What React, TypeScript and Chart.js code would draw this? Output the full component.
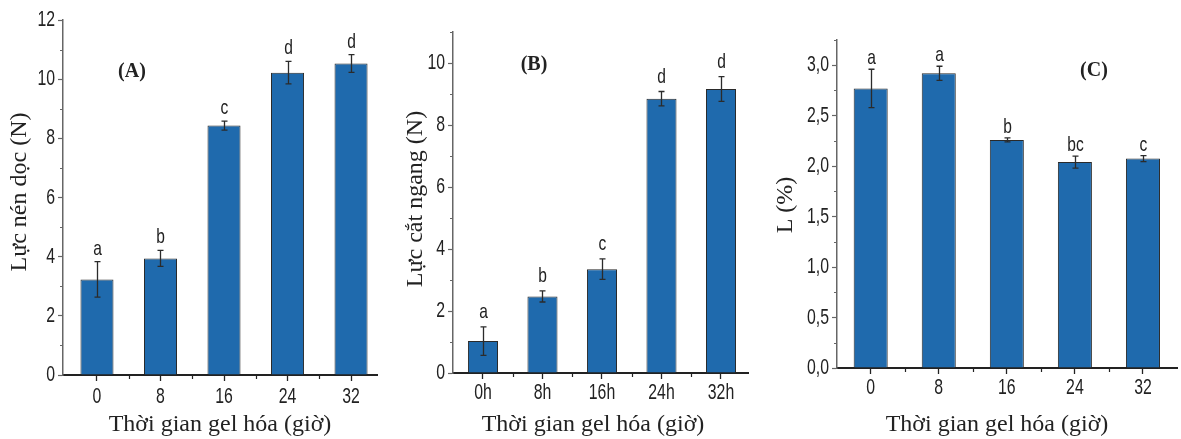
import React, { useEffect, useRef } from "react";
import { Chart, registerables } from "chart.js";

Chart.register(...registerables);

// ---------------- data ----------------
const hours = [0, 8, 16, 24, 32];

const xLabelsA = ["0", "8", "16", "24", "32"];
const valuesA = [3.23, 3.94, 8.43, 10.22, 10.53];
const errorsA = [0.6, 0.27, 0.15, 0.38, 0.3];
const lettersA = ["a", "b", "c", "d", "d"];
const yTicksA = [0, 2, 4, 6, 8, 10, 12];

const xLabelsB = ["0h", "8h", "16h", "24h", "32h"];
const valuesB = [1.03, 2.47, 3.35, 8.85, 9.16];
const errorsB = [0.46, 0.18, 0.33, 0.23, 0.4];
const lettersB = ["a", "b", "c", "d", "d"];
const yTicksB = [0, 2, 4, 6, 8, 10];

const xLabelsC = ["0", "8", "16", "24", "32"];
const valuesC = [2.77, 2.92, 2.26, 2.04, 2.075];
const errorsC = [0.19, 0.07, 0.02, 0.06, 0.03];
const lettersC = ["a", "a", "b", "bc", "c"];
const yTicksC = [0, 0.5, 1, 1.5, 2, 2.5, 3];

const xTitle = "Thời gian gel hóa (giờ)";

// ---------------- styles ----------------
const H = 439;
const SANS = '"Liberation Sans", Arial, sans-serif';
const SERIF = '"Liberation Serif", "Times New Roman", serif';
const BAR = "#1f6aad";
const DARK = "#222222";
const GREY = "#666666";

type PanelCfg = {
  left: number;
  width: number;
  area: { left: number; right: number; top: number; bottom: number };
  xMin: number;
  xMax: number;
  yMax: number;
  yTicks: number[];
  yMinor: number;
  xLabels: string[];
  values: number[];
  errors: number[];
  letters: string[];
  comma: boolean;
  yTitle: string;
  yTitlePos: [number, number];
  xTitlePos: [number, number];
  label: string;
  labelPos: [number, number];
  letterGap: number;
  barPct: number;
  xTickY: number;
};

const panels: PanelCfg[] = [
  {
    left: 0,
    width: 390,
    area: { left: 63, right: 377, top: 20, bottom: 375 },
    xMin: -4.28,
    xMax: 35.27,
    yMax: 12,
    yTicks: yTicksA,
    yMinor: 1,
    xLabels: xLabelsA,
    values: valuesA,
    errors: errorsA,
    letters: lettersA,
    comma: false,
    yTitle: "Lực nén dọc (N)",
    yTitlePos: [20, 192],
    xTitlePos: [220, 425],
    label: "(A)",
    labelPos: [132, 72],
    letterGap: 7,
    barPct: 0.52,
    xTickY: 397,
  },
  {
    left: 390,
    width: 380,
    area: { left: 63, right: 358, top: 32, bottom: 373 },
    xMin: -4.03,
    xMax: 35.63,
    yMax: 11,
    yTicks: yTicksB,
    yMinor: 1,
    xLabels: xLabelsB,
    values: valuesB,
    errors: errorsB,
    letters: lettersB,
    comma: false,
    yTitle: "Lực cắt ngang (N)",
    yTitlePos: [26, 199],
    xTitlePos: [203, 425],
    label: "(B)",
    labelPos: [144, 65],
    letterGap: 9,
    barPct: 0.505,
    xTickY: 393,
  },
  {
    left: 770,
    width: 411,
    area: { left: 67, right: 407, top: 40, bottom: 368 },
    xMin: -3.96,
    xMax: 36.0,
    yMax: 3.25,
    yTicks: yTicksC,
    yMinor: 0.25,
    xLabels: xLabelsC,
    values: valuesC,
    errors: errorsC,
    letters: lettersC,
    comma: true,
    yTitle: "L (%)",
    yTitlePos: [16, 205],
    xTitlePos: [227, 425],
    label: "(C)",
    labelPos: [324, 71],
    letterGap: 5,
    barPct: 0.5,
    xTickY: 388,
  },
];

function narrowText(
  ctx: CanvasRenderingContext2D,
  text: string,
  x: number,
  y: number,
  align: CanvasTextAlign,
  baseline: CanvasTextBaseline,
  size: number,
  sx: number
) {
  ctx.save();
  ctx.translate(x, y);
  ctx.scale(sx, 1);
  ctx.font = `${size}px ${SANS}`;
  ctx.textAlign = align;
  ctx.textBaseline = baseline;
  ctx.fillText(text, 0, 0);
  ctx.restore();
}

function makeOverlay(cfg: PanelCfg) {
  return {
    id: "overlay" + cfg.label,
    afterDatasetsDraw(chart: any) {
      const ctx = chart.ctx as CanvasRenderingContext2D;
      const xs = chart.scales.x;
      const ys = chart.scales.y;
      const a = chart.chartArea;
      ctx.save();
      // error bars + letters
      cfg.values.forEach((v, i) => {
        const e = cfg.errors[i];
        const x = Math.round(xs.getPixelForValue(hours[i])) + 0.5;
        const yt = ys.getPixelForValue(v + e);
        const yb = ys.getPixelForValue(v - e);
        ctx.strokeStyle = "#2b2b2b";
        ctx.lineWidth = 1.3;
        ctx.beginPath();
        ctx.moveTo(x, yt);
        ctx.lineTo(x, yb);
        ctx.moveTo(x - 3, yt);
        ctx.lineTo(x + 3, yt);
        ctx.moveTo(x - 3, yb);
        ctx.lineTo(x + 3, yb);
        ctx.stroke();
        ctx.fillStyle = DARK;
        narrowText(ctx, cfg.letters[i], x, yt - cfg.letterGap, "center", "alphabetic", 21, 0.74);
      });
      // tick labels
      ctx.fillStyle = DARK;
      cfg.yTicks.forEach((v) => {
        const t = cfg.comma ? v.toFixed(1).replace(".", ",") : String(v);
        narrowText(ctx, t, a.left - 8, ys.getPixelForValue(v), "right", "middle", 22, 0.72);
      });
      hours.forEach((h, i) => {
        narrowText(ctx, cfg.xLabels[i], xs.getPixelForValue(h), cfg.xTickY, "center", "middle", 22, 0.72);
      });
      // minor y ticks
      ctx.strokeStyle = GREY;
      ctx.lineWidth = 1.2;
      ctx.beginPath();
      for (let v = cfg.yMinor; v <= cfg.yMax + 1e-9; v += cfg.yMinor * 2) {
        const y = Math.round(ys.getPixelForValue(v)) + 0.5;
        ctx.moveTo(a.left, y);
        ctx.lineTo(a.left - 3, y);
      }
      ctx.stroke();
      // minor x ticks
      ctx.strokeStyle = DARK;
      ctx.beginPath();
      for (let i = 0; i < hours.length - 1; i++) {
        const x = Math.round(xs.getPixelForValue((hours[i] + hours[i + 1]) / 2)) + 0.5;
        ctx.moveTo(x, a.bottom);
        ctx.lineTo(x, a.bottom + 4);
      }
      ctx.stroke();
      // panel label
      ctx.fillStyle = DARK;
      ctx.font = `bold 20px ${SERIF}`;
      ctx.textAlign = "center";
      ctx.textBaseline = "middle";
      ctx.fillText(cfg.label, cfg.labelPos[0], cfg.labelPos[1]);
      // axis titles
      ctx.font = `24px ${SERIF}`;
      ctx.fillText(xTitle, cfg.xTitlePos[0], cfg.xTitlePos[1]);
      ctx.save();
      ctx.translate(cfg.yTitlePos[0], cfg.yTitlePos[1]);
      ctx.rotate(-Math.PI / 2);
      ctx.fillText(cfg.yTitle, 0, 0);
      ctx.restore();
      ctx.restore();
    },
  };
}

function Panel({ cfg }: { cfg: PanelCfg }) {
  const ref = useRef<HTMLCanvasElement>(null);
  useEffect(() => {
    const canvas = ref.current!;
    const chart = new Chart(canvas, {
      type: "bar",
      data: {
        datasets: [
          {
            data: hours.map((h, i) => ({ x: h, y: cfg.values[i] })),
            backgroundColor: BAR,
            borderColor: "#2a2a2a",
            borderWidth: 1,
            categoryPercentage: 1,
            barPercentage: cfg.barPct,
          },
        ],
      },
      options: {
        responsive: false,
        animation: false,
        events: [],
        layout: {
          padding: { left: 0, top: cfg.area.top, right: cfg.width - cfg.area.right, bottom: 0 },
        },
        plugins: { legend: { display: false }, tooltip: { enabled: false } },
        scales: {
          x: {
            type: "linear",
            offset: false,
            min: cfg.xMin,
            max: cfg.xMax,
            afterBuildTicks: (s: any) => {
              s.ticks = hours.map((v) => ({ value: v }));
            },
            afterFit: (s: any) => {
              s.height = H - cfg.area.bottom;
            },
            ticks: {
              display: true,
              callback: () => "",
              maxRotation: 0,
              autoSkip: false,
            },
            grid: {
              offset: false,
              drawOnChartArea: false,
              drawTicks: true,
              tickLength: 6,
              tickColor: DARK,
              tickWidth: 1.3,
            },
            border: { display: true, color: DARK, width: 2 },
          },
          y: {
            type: "linear",
            min: 0,
            max: cfg.yMax,
            afterBuildTicks: (s: any) => {
              s.ticks = cfg.yTicks.map((v) => ({ value: v }));
            },
            afterFit: (s: any) => {
              s.width = cfg.area.left;
            },
            ticks: {
              callback: () => "",
              autoSkip: false,
            },
            grid: {
              drawOnChartArea: false,
              drawTicks: true,
              tickLength: 5,
              tickColor: GREY,
              tickWidth: 1.2,
            },
            border: { display: true, color: GREY, width: 1.5 },
          },
        },
      },
      plugins: [makeOverlay(cfg)],
    } as any);
    return () => chart.destroy();
  }, [cfg]);
  return (
    <div style={{ position: "absolute", left: cfg.left, top: 0, width: cfg.width, height: H }}>
      <canvas ref={ref} width={cfg.width} height={H} style={{ display: "block" }} />
    </div>
  );
}

export default function App() {
  return (
    <div style={{ position: "absolute", left: 0, top: 0, width: 1181, height: H, background: "#fff", overflow: "hidden" }}>
      {panels.map((p) => (
        <Panel key={p.label} cfg={p} />
      ))}
    </div>
  );
}
